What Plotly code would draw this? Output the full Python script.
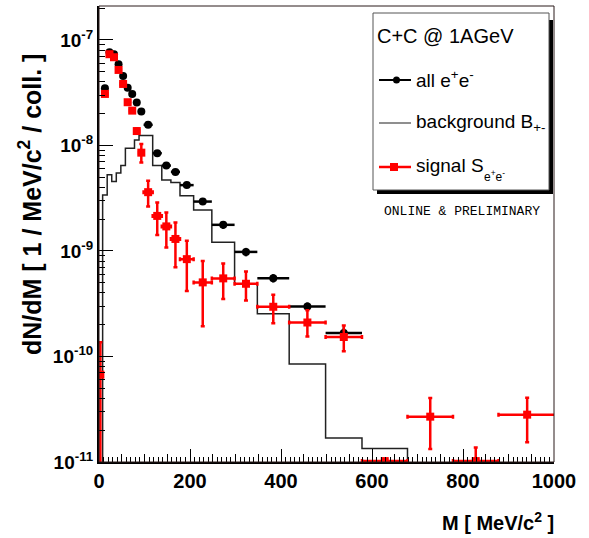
import plotly.graph_objects as go

# ---------------- data ----------------
bin_edges = [-2, 8, 18, 28, 38, 48, 58, 68, 78, 88, 98, 118, 138, 158, 178, 208,
             248, 298, 348, 418, 498, 578, 678, 778, 878, 1004]

# all e+e- : bins [8,18] ... [498,578]
all_vals = [3.49e-8, 7.65e-8, 7.33e-8, 5.89e-8, 4.56e-8, 3.53e-8, 3.08e-8, 2.55e-8,
            2.10e-8, 1.57e-8, 8.45e-9, 6.45e-9, 5.62e-9, 4.21e-9, 2.94e-9, 1.77e-9,
            9.8e-10, 5.53e-10, 2.98e-10, 1.67e-10]
all_err = [0.08e-8, 0.15e-8, 0.15e-8, 0.12e-8, 0.10e-8, 0.08e-8, 0.07e-8, 0.06e-8,
           0.05e-8, 0.05e-8, 0.3e-9, 0.25e-9, 0.25e-9, 0.25e-9, 0.2e-9, 0.15e-9,
           0.9e-10, 0.5e-10, 0.27e-10, 0.22e-10]

# background B+- : bins [8,18] ... [578,678]
bkg_vals = [3.40e-9, 5.27e-9, 4.55e-9, 5.47e-9, 6.46e-9, 9.42e-9, 9.42e-9, 1.13e-8,
            1.24e-8, 1.24e-8, 6.46e-9, 4.72e-9, 4.45e-9, 3.33e-9, 2.45e-9, 1.21e-9,
            4.86e-10, 2.54e-10, 8.49e-11, 1.69e-11, 1.34e-11]

# signal S e+e- : all bins [-2,8] ... [878,1004]
sig_vals = [6.73e-11, 3.08e-8, 7.33e-8, 6.86e-8, 5.2e-8, 3.83e-8, 2.57e-8, 2.14e-8,
            1.37e-8, 8.55e-9, 3.61e-9, 2.15e-9, 1.71e-9, 1.30e-9, 8.37e-10, 5.04e-10,
            5.5e-10, 4.89e-10, 2.96e-10, 2.1e-10, 1.53e-10, 1.02e-11, 2.69e-11, 1.02e-11,
            2.81e-11]
sig_err_plus = [6.9e-11, 0.1e-8, 0.2e-8, 0.2e-8, 0.15e-8, 0.12e-8, 0.1e-8, 0.1e-8,
                0.08e-8, 1.8e-9, 1.01e-9, 0.73e-9, 0.61e-9, 0.56e-9, 4.1e-10, 3.0e-10,
                2.1e-10, 1.5e-10, 0.89e-10, 0.64e-10, 0.44e-10, 0.0, 1.36e-11, 3.5e-12,
                1.26e-11]
sig_err_minus = [6.7e-11, 0.1e-8, 0.2e-8, 0.2e-8, 0.15e-8, 0.12e-8, 0.1e-8, 0.1e-8,
                 0.08e-8, 1.66e-9, 0.97e-9, 0.73e-9, 0.63e-9, 0.6e-9, 4.2e-10, 3.1e-10,
                 2.0e-10, 1.5e-10, 0.89e-10, 0.55e-10, 0.41e-10, 0.0, 1.36e-11, 0.0,
                 1.27e-11]

y_tick_vals = [1e-11, 1e-10, 1e-9, 1e-8, 1e-7]
y_tick_text = ["10<sup>-11</sup>", "10<sup>-10</sup>", "10<sup>-9</sup>",
               "10<sup>-8</sup>", "10<sup>-7</sup>"]

# ---------------- derived ----------------
centers = [(a + b) / 2 for a, b in zip(bin_edges[:-1], bin_edges[1:])]
halfw = [(b - a) / 2 for a, b in zip(bin_edges[:-1], bin_edges[1:])]

n_all = len(all_vals)
all_x = centers[1:1 + n_all]
all_xe = halfw[1:1 + n_all]

n_bkg = len(bkg_vals)
floor = 1e-13
bkg_x = [bin_edges[1]] + bin_edges[1:1 + n_bkg] + [bin_edges[1 + n_bkg]]
bkg_y = [floor] + bkg_vals + [floor]

W, H = 589, 538
L, R, T, B = 99, 35, 6, 76
pw, ph = W - L - R, H - T - B


def px(x):
    return (x - L) / pw


def py(y):
    return (H - B - y) / ph


FONT = "Liberation Sans, Arial, Helvetica, sans-serif"
RED = "#ff0000"

fig = go.Figure()

fig.add_trace(go.Scatter(
    x=bkg_x, y=bkg_y, mode="lines", line_shape="hv",
    line=dict(color="#222222", width=1.5), showlegend=False, hoverinfo="skip"))

fig.add_trace(go.Scatter(
    x=all_x, y=all_vals, mode="markers",
    marker=dict(symbol="circle", size=8, color="black"),
    error_x=dict(type="data", array=all_xe, color="black", thickness=2.5, width=0),
    error_y=dict(type="data", array=all_err, color="black", thickness=2.5, width=0),
    showlegend=False))

fig.add_trace(go.Scatter(
    x=centers, y=sig_vals, mode="markers",
    marker=dict(symbol="square", size=8, color=RED),
    error_x=dict(type="data", array=halfw, color=RED, thickness=2.5, width=2),
    error_y=dict(type="data", symmetric=False, array=sig_err_plus,
                 arrayminus=sig_err_minus, color=RED, thickness=2.5, width=2),
    cliponaxis=True, showlegend=False))

# invisible trace to hold the 50-MeV tick axis
fig.add_trace(go.Scatter(x=[0, 1000], y=[1e-20, 1e-20], xaxis="x2", yaxis="y",
                         mode="markers", marker=dict(opacity=0), showlegend=False,
                         hoverinfo="skip"))

fig.update_layout(
    width=W, height=H,
    margin=dict(l=L, r=R, t=T, b=B),
    paper_bgcolor="white", plot_bgcolor="white",
    font=dict(family=FONT, color="black"),
    xaxis=dict(range=[0, 1000], tick0=0, dtick=200, ticks="inside", ticklen=13,
               tickwidth=1, tickcolor="black", showgrid=False, zeroline=False,
               showline=True, linecolor="black", linewidth=2,
               tickfont=dict(family=FONT, size=20, color="black", weight="bold"),
               minor=dict(ticks="inside", ticklen=5, dtick=10, tick0=0,
                          tickcolor="black", tickwidth=1, showgrid=False)),
    xaxis2=dict(range=[0, 1000], overlaying="x", anchor="y", side="bottom",
                tick0=0, dtick=50, ticks="inside", ticklen=8, tickcolor="black",
                tickwidth=1, showticklabels=False, showgrid=False, zeroline=False,
                showline=False),
    yaxis=dict(type="log", range=[-11, -6.678], tickvals=y_tick_vals,
               ticktext=y_tick_text, ticks="inside", ticklen=14, tickwidth=1,
               tickcolor="black", showgrid=False, zeroline=False, showline=True,
               linecolor="black", linewidth=2,
               tickfont=dict(family=FONT, size=19, color="black", weight="bold"),
               minor=dict(ticks="inside", ticklen=6, dtick="D1", tickcolor="black",
                          tickwidth=1, showgrid=False)),
)

shapes = []
# frame (top & right)
shapes.append(dict(type="rect", xref="paper", yref="paper", x0=0, x1=1, y0=0, y1=1,
                   line=dict(color="#2a1a1a", width=1), layer="above"))
# legend shadow
shapes.append(dict(type="rect", xref="paper", yref="paper",
                   x0=px(549), x1=px(553), y0=py(194), y1=py(20),
                   fillcolor="black", line=dict(width=0)))
shapes.append(dict(type="rect", xref="paper", yref="paper",
                   x0=px(377), x1=px(553), y0=py(194), y1=py(190),
                   fillcolor="black", line=dict(width=0)))
# legend box
shapes.append(dict(type="rect", xref="paper", yref="paper",
                   x0=px(373), x1=px(549), y0=py(190), y1=py(13),
                   fillcolor="white", line=dict(color="#555555", width=1)))
# legend symbols
shapes.append(dict(type="line", xref="paper", yref="paper",
                   x0=px(379), x1=px(411), y0=py(80), y1=py(80),
                   line=dict(color="black", width=2)))
shapes.append(dict(type="circle", xref="paper", yref="paper",
                   x0=px(393), x1=px(400), y0=py(83.5), y1=py(76.5),
                   fillcolor="black", line=dict(color="black", width=0)))
shapes.append(dict(type="line", xref="paper", yref="paper",
                   x0=px(379), x1=px(411), y0=py(123), y1=py(123),
                   line=dict(color="#444444", width=1.2)))
shapes.append(dict(type="line", xref="paper", yref="paper",
                   x0=px(379), x1=px(411), y0=py(167), y1=py(167),
                   line=dict(color=RED, width=2.5)))
shapes.append(dict(type="rect", xref="paper", yref="paper",
                   x0=px(390), x1=px(398), y0=py(171), y1=py(163),
                   fillcolor=RED, line=dict(color=RED, width=0)))

annotations = []


def ann(text, x, y, size, xanchor="left", yanchor="middle", family=FONT, angle=0,
        weight="normal"):
    annotations.append(dict(text=text, x=px(x), y=py(y), xref="paper", yref="paper",
                            xanchor=xanchor, yanchor=yanchor, showarrow=False,
                            textangle=angle,
                            font=dict(family=family, size=size, color="black",
                                      weight=weight)))


ann("C+C @ 1AGeV", 375, 36, 20)
ann("all e<sup>+</sup>e<sup>-</sup>", 414, 79, 19)
ann("background B<sub>+-</sub>", 414, 123, 19)
ann("signal S", 414, 165, 19)
ann("e<sup>+</sup>e<sup>-</sup>", 482, 176, 12)
ann("ONLINE &amp; PRELIMINARY", 462, 212, 13, xanchor="center",
    family="Liberation Mono, Courier New, DejaVu Sans Mono, monospace")
ann("dN/dM [ 1 / MeV/c<sup>2</sup> / coll. ]", 30, 205, 25,
    xanchor="center", angle=-90, weight="bold")
ann("M [ MeV/c<sup>2</sup> ]", 556, 521, 20, xanchor="right", weight="bold")

fig.update_layout(shapes=shapes, annotations=annotations)

fig.write_html("out.html")
